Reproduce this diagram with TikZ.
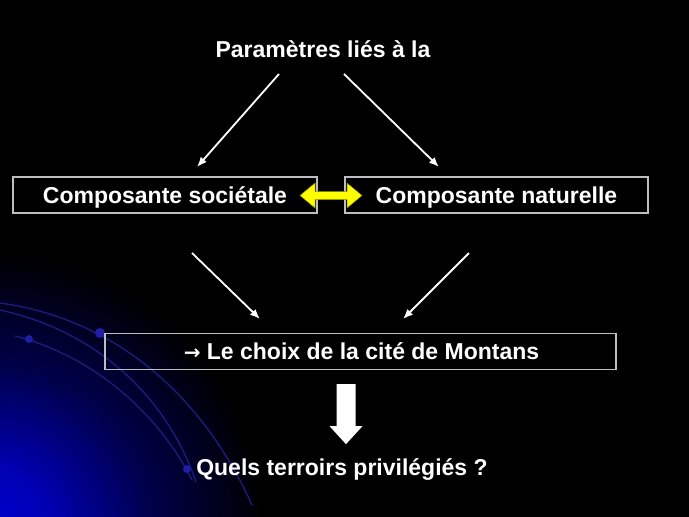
\documentclass[tikz,border=0pt]{standalone}
\usepackage{fontspec}
\setmainfont{Liberation Sans}
\newfontfamily\arrowfont{DejaVu Sans}
\usetikzlibrary{arrows.meta,calc}
\definecolor{glowblue}{RGB}{0,0,210}
\definecolor{arcblue}{RGB}{28,28,120}
\definecolor{dotblue}{RGB}{30,30,170}
\definecolor{boxgray}{RGB}{190,190,190}
\definecolor{arrowyellow}{RGB}{255,255,0}
\pgfdeclareradialshading{glow}{\pgfpoint{0bp}{0bp}}{color(0bp)=(glowblue); color(6bp)=(glowblue!85!black); color(15bp)=(glowblue!35!black); color(25bp)=(black); color(50bp)=(black)}
\tikzset{
  lbl/.style={text=white, font=\fontsize{23}{27}\selectfont\bfseries, inner sep=0pt, text height=16.5pt, text depth=0pt},
  framebox/.style={lbl, draw=boxgray, line width=1.3pt, minimum height=36pt},
  thinarrow/.style={draw=white, line width=1.8pt, -{Latex[length=10pt,width=8pt]}},
  arcline/.style={draw=arcblue, line width=1.4pt},
  arcdot/.style={fill=dotblue}
}
\begin{document}
\begin{tikzpicture}[x=1pt,y=-1pt]
\fill[black] (0,0) rectangle (689,517);
\useasboundingbox (0,0) rectangle (689,517);
\begin{scope}
\clip (0,0) rectangle (689,517);
\shade[shading=glow] (-15,532) circle[radius=280pt];
\draw[arcline] (0,303) .. controls (110,318) and (200,390) .. (252,505);
\draw[arcline] (0,310) .. controls (100,332) and (168,400) .. (196,482);
\draw[arcline] (15,336) .. controls (100,358) and (162,420) .. (192,480);
\fill[arcdot] (100,333) circle[radius=5pt];
\fill[arcdot] (29,339) circle[radius=4pt];
\fill[arcdot] (187,469) circle[radius=4pt];
\end{scope}

% texts and boxes
\node[lbl] (param) at (323,49) {Paramètres liés à la};
\node[framebox, minimum width=304pt] (soc) at (165,195) {Composante sociétale};
\node[framebox, minimum width=303pt] (nat) at (496.5,195) {Composante naturelle};
\node[framebox, minimum width=511pt] (choix) at (360.5,351.5) {\hspace*{2pt}{\arrowfont\fontsize{20}{24}\selectfont →} Le choix de la cité de Montans};
\node[lbl] (quels) at (342,467) {Quels terroirs privilégiés ?};

% thin arrows
\coordinate (p1) at (279,74);
\coordinate (p2) at (344,74);
\coordinate (s1) at (197,167);
\coordinate (n1) at (439,167);
\coordinate (s2) at (192,253);
\coordinate (n2) at (469,253);
\coordinate (c1) at (260,319);
\coordinate (c2) at (403,319);
\draw[thinarrow] (p1) -- (s1);
\draw[thinarrow] (p2) -- (n1);
\draw[thinarrow] (s2) -- (c1);
\draw[thinarrow] (n2) -- (c2);

% yellow double arrow between the two boxes
\filldraw[fill=arrowyellow, draw=arrowyellow!55!black, line width=0.5pt]
  (300,195.5) -- (315,183) -- (315,191.5) -- (347,191.5) -- (347,183) -- (362,195.5)
  -- (347,208) -- (347,199.5) -- (315,199.5) -- (315,208) -- cycle;

% white block arrow from choice box to question
\fill[white] ($(choix.south)+(-24,14)$) coordinate (ba) -- ++(19,0) -- ++(0,42) -- ++(7,0)
  -- ++(-16.5,18) -- ++(-16.5,-18) -- ++(7,0) -- cycle;
\end{tikzpicture}
\end{document}
